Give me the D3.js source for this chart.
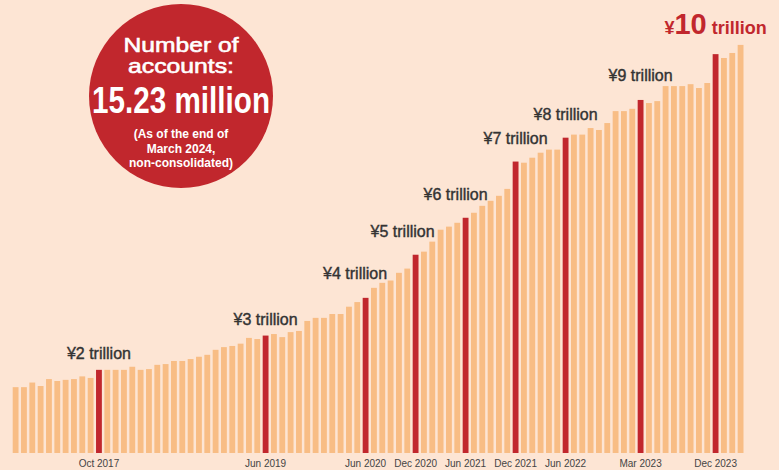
<!DOCTYPE html>
<html lang="en">
<head>
<meta charset="utf-8">
<title>Deposits balance</title>
<script src="https://cdn.jsdelivr.net/npm/d3@7"></script>
<style>
  body { margin: 0; background: #fde5d4; }
  svg { display: block; font-family: "Liberation Sans", Arial, Helvetica, sans-serif; }
</style>
</head>
<body>
<div id="chart"></div>
<script>
// months from Dec 2016 to Mar 2024 (one bar per month)
var firstMonth = new Date(2016, 11, 1);
var lastMonth = new Date(2024, 2, 1);
var fmt = d3.timeFormat("%b %Y");
var months = d3.timeMonths(firstMonth, d3.timeMonth.offset(lastMonth, 1)).map(fmt);

// balance, trillion yen
var balance = [
  1.71, 1.71, 1.83, 1.74, 1.92, 1.87, 1.90, 1.92, 1.99, 1.95,
  2.16, 2.16, 2.16, 2.16, 2.24, 2.16, 2.18, 2.29, 2.31, 2.39,
  2.39, 2.44, 2.50, 2.55, 2.68, 2.75, 2.78, 2.84, 2.99, 2.96,
  3.05, 3.09, 3.01, 3.14, 3.17, 3.43, 3.51, 3.51, 3.61, 3.61,
  3.80, 3.92, 4.03, 4.29, 4.42, 4.48, 4.68, 4.79, 5.15, 5.23,
  5.49, 5.80, 5.88, 5.98, 6.11, 6.24, 6.42, 6.55, 6.68, 6.86,
  7.57, 7.54, 7.67, 7.80, 7.88, 7.88, 8.19, 8.27, 8.27, 8.44,
  8.39, 8.57, 8.88, 8.88, 8.94, 9.17, 9.09, 9.14, 9.53, 9.53,
  9.53, 9.58, 9.48, 9.61, 10.36, 10.26, 10.39, 10.60
];

// milestone months (red bars + x tick labels) and their labels
var milestoneMonths = ["Oct 2017", "Jun 2019", "Jun 2020", "Dec 2020", "Jun 2021",
                       "Dec 2021", "Jun 2022", "Mar 2023", "Dec 2023"];
var milestoneLabels = ["¥2 trillion", "¥3 trillion", "¥4 trillion", "¥5 trillion", "¥6 trillion",
                       "¥7 trillion", "¥8 trillion", "¥9 trillion", "¥10 trillion"];

var data = months.map(function(m, i){ return {month: m, value: balance[i]}; });

var w = 779, h = 470;
var baseY = 453;

var svg = d3.select("#chart").append("svg")
            .attr("width", w)
            .attr("height", h);

svg.append("rect").attr("width", w).attr("height", h).attr("fill", "#fde5d4");

var xScale = d3.scaleBand()
               .domain(months)
               .range([12.7, 743.5])
               .paddingInner(0.3)
               .paddingOuter(0);
var yScale = d3.scaleLinear()
               .domain([0, 11])
               .range([baseY, baseY - 11 * 38.5]);

var isMilestone = function(m){ return milestoneMonths.indexOf(m) >= 0; };

// bars
svg.selectAll("rect.bar")
   .data(data)
   .enter()
   .append("rect")
   .attr("class", "bar")
   .attr("x", function(d){ return xScale(d.month); })
   .attr("y", function(d){ return yScale(d.value); })
   .attr("width", xScale.bandwidth())
   .attr("height", function(d){ return baseY - yScale(d.value); })
   .attr("fill", function(d){ return isMilestone(d.month) ? "#c1272d" : "#f8bd85"; });

// x axis: only milestone labels, no line
var xAxis = d3.axisBottom(xScale)
              .tickValues(milestoneMonths)
              .tickSize(0)
              .tickPadding(7);
var gx = svg.append("g")
            .attr("transform", "translate(0," + baseY + ")")
            .call(xAxis);
gx.select(".domain").remove();
gx.selectAll("text")
  .attr("font-size", 10)
  .attr("font-family", "Liberation Sans, Arial, sans-serif")
  .attr("fill", "#444");

// milestone labels above red bars (nudges keep them clear of the next bars)
var nudgeX = [0, 0, -10.5, -13, -10, 0, 0, 0];
var gapY   = [11, 11, 18.5, 17.5, 17.5, 17.5, 17.5, 18.5];
milestoneMonths.slice(0, 8).forEach(function(m, i){
  var d = data[months.indexOf(m)];
  svg.append("text")
     .attr("x", xScale(m) + xScale.bandwidth() / 2 + nudgeX[i])
     .attr("y", yScale(d.value) - gapY[i])
     .attr("text-anchor", "middle")
     .attr("font-size", 16)
     .attr("fill", "#333")
     .attr("stroke", "#333")
     .attr("stroke-width", 0.4)
     .text(milestoneLabels[i]);
});

// the ¥10 trillion headline label
var last = milestoneMonths[8];
var lastD = data[months.indexOf(last)];
var big = svg.append("text")
             .attr("x", xScale(last) + xScale.bandwidth() / 2)
             .attr("y", yScale(lastD.value) - 20.5)
             .attr("text-anchor", "middle")
             .attr("font-weight", "bold")
             .attr("fill", "#c1272d");
var parts = milestoneLabels[8].match(/^(¥)(\d+)(.*)$/);
big.append("tspan").attr("font-size", 18).text(parts[1]);
big.append("tspan").attr("font-size", 29).text(parts[2]);
big.append("tspan").attr("font-size", 18).text(parts[3]);

// circle with account count
var cx = 181, cy = 96;
svg.append("circle")
   .attr("cx", cx).attr("cy", cy).attr("r", 92)
   .attr("fill", "#c1272d");

var circleText = [
  {t: "Number of", y: 52, size: 21, weight: "normal", len: 115, stroke: 0.6},
  {t: "accounts:", y: 73, size: 21, weight: "normal", len: 106, stroke: 0.6},
  {t: "15.23 million", y: 113, size: 36, weight: "bold", len: 178, stroke: 0},
  {t: "(As of the end of", y: 138, size: 12, weight: "bold", len: null, stroke: 0},
  {t: "March 2024,", y: 152.5, size: 12, weight: "bold", len: null, stroke: 0},
  {t: "non-consolidated)", y: 167, size: 12, weight: "bold", len: null, stroke: 0}
];
circleText.forEach(function(c){
  var t = svg.append("text")
             .attr("x", cx)
             .attr("y", c.y)
             .attr("text-anchor", "middle")
             .attr("font-size", c.size)
             .attr("font-weight", c.weight)
             .attr("fill", "#fff")
             .text(c.t);
  if (c.stroke) t.attr("stroke", "#fff").attr("stroke-width", c.stroke);
  if (c.len) {
    t.attr("textLength", c.len).attr("lengthAdjust", "spacingAndGlyphs");
  }
});
</script>
</body>
</html>
